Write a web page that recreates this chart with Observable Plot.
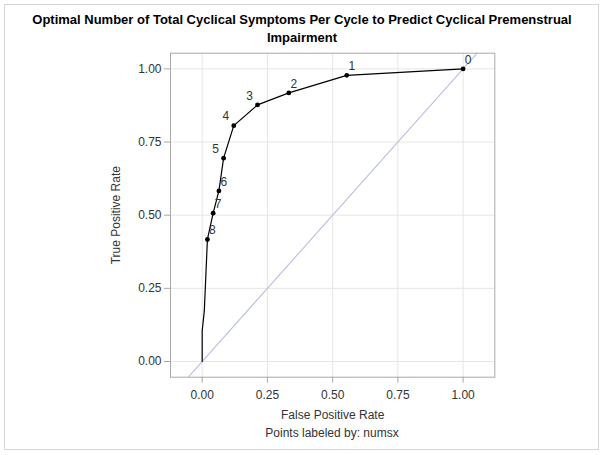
<!DOCTYPE html>
<html>
<head>
<meta charset="utf-8">
<script src="https://cdn.jsdelivr.net/npm/d3@7"></script>
<script src="https://cdn.jsdelivr.net/npm/@observablehq/plot@0.6"></script>
<style>
  html, body { margin: 0; padding: 0; background: #fff; }
  #wrap { position: relative; width: 604px; height: 455px; font-family: "Liberation Sans", Arial, sans-serif; overflow: hidden; background: #fff; }
  #border { position: absolute; left: 4px; top: 4px; width: 595px; height: 446px; border: 1px solid #d6d6d6; box-sizing: border-box; pointer-events: none; }
  #title { position: absolute; left: 0; top: 11px; width: 604px; text-align: center; font-weight: bold; font-size: 13px; line-height: 18px; color: #000; }
  #chart { position: absolute; left: 0; top: 46px; }
  #foot { position: absolute; left: 232px; width: 200px; top: 425px; text-align: center; font-size: 12px; line-height: 16px; color: #333; }
</style>
</head>
<body>
<div id="wrap">
  <div id="title">Optimal Number of Total Cyclical Symptoms Per Cycle to Predict Cyclical Premenstrual<br>Impairment</div>
  <div id="chart"></div>
  <div id="foot">Points labeled by: numsx</div>
  <div id="border"></div>
</div>
<script>
// Labeled cut points (numsx)
const numsx = [0, 1, 2, 3, 4, 5, 6, 7, 8];
const falsePositiveRate = [1.000, 0.554, 0.332, 0.212, 0.121, 0.082, 0.064, 0.042, 0.020];
const truePositiveRate  = [1.000, 0.978, 0.918, 0.877, 0.806, 0.695, 0.583, 0.507, 0.417];
// Unlabeled tail of the ROC curve down to the origin
const tailFPR = [0.008, 0.000, 0.000];
const tailTPR = [0.172, 0.105, 0.000];
// Axis ticks
const tickValues = [0, 0.25, 0.5, 0.75, 1];
// Labels placed to the upper-left
const leftLabeled = [3, 4, 5];

const points = numsx.map((n, i) => ({n, fpr: falsePositiveRate[i], tpr: truePositiveRate[i]}));
const curve = points.concat(tailFPR.map((f, i) => ({fpr: f, tpr: tailTPR[i]})));
const xDomain = [-0.1215, 1.1215];
const yDomain = [-0.0536, 1.0536];

const chart = Plot.plot({
  width: 604,
  height: 380,
  marginLeft: 170,
  marginRight: 109.7,
  marginTop: 6.7,
  marginBottom: 49.3,
  x: {domain: xDomain},
  y: {domain: yDomain},
  style: {fontFamily: "'Liberation Sans', Arial, sans-serif", fontSize: "12px", color: "#333", background: "transparent", overflow: "visible"},
  marks: [
    Plot.gridX(tickValues, {stroke: "#e6e6e6", strokeOpacity: 1}),
    Plot.gridY(tickValues, {stroke: "#e6e6e6", strokeOpacity: 1}),
    Plot.line(xDomain, {x: d => d, y: d => d, stroke: "#b9bfde", strokeWidth: 1.1, clip: true}),
    Plot.line(curve, {x: "fpr", y: "tpr", stroke: "#000", strokeWidth: 1.2}),
    Plot.dot(points, {x: "fpr", y: "tpr", r: 2.4, fill: "#000", stroke: "none"}),
    Plot.text(points.filter(d => !leftLabeled.includes(d.n)), {x: "fpr", y: "tpr", text: d => String(d.n), dx: 5, dy: -9, fill: "#333", fontSize: 12}),
    Plot.text(points.filter(d => leftLabeled.includes(d.n)), {x: "fpr", y: "tpr", text: d => String(d.n), dx: -8, dy: -9, fill: "#333", fontSize: 12}),
    Plot.frame({stroke: "#a8a8a8"}),
    Plot.axisX(tickValues, {tickFormat: d3.format(".2f"), tickSize: 6, tickPadding: 7, stroke: "#a8a8a8", fill: "#333", label: "False Positive Rate", labelAnchor: "center", labelArrow: "none", labelOffset: 42}),
    Plot.axisY(tickValues, {tickFormat: d3.format(".2f"), tickSize: 6, tickPadding: 3, stroke: "#a8a8a8", fill: "#333", label: "True Positive Rate", labelAnchor: "center", labelArrow: "none", labelOffset: 59})
  ]
});
document.getElementById("chart").appendChild(chart);
</script>
</body>
</html>
